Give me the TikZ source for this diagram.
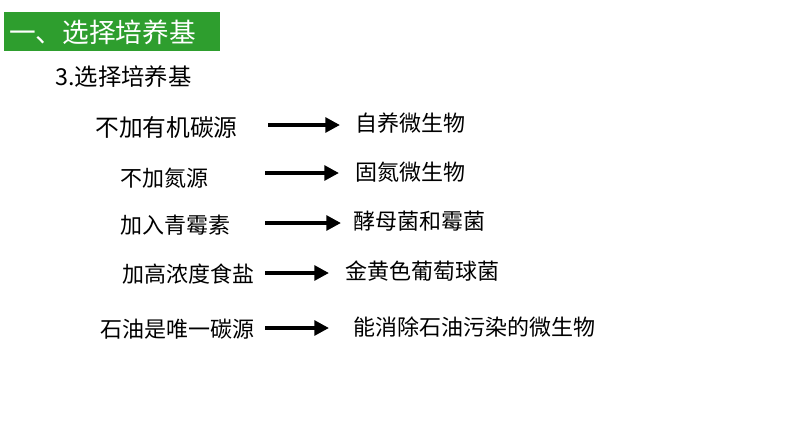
\documentclass[tikz,border=0pt]{standalone}
\usepackage{fontspec}
\newfontfamily\cjk{Noto Sans CJK SC}
\usetikzlibrary{arrows.meta}
\definecolor{titlegreen}{RGB}{46,158,46}
\begin{document}
\begin{tikzpicture}[x=0.75pt, y=-0.75pt,
    txt/.style={anchor=west, inner sep=0pt, font=\cjk\fontsize{16.5}{18}\selectfont},
    arr/.style={-{Triangle[length=11pt, width=11pt]}, line width=3pt}]
    \useasboundingbox (0,0) rectangle (794,447);

    % ==== TITLE BAR ====
    \fill[titlegreen] (4,12) rectangle (220,51);
    \node[anchor=west, inner sep=0pt, text=white, font=\cjk\fontsize{20}{22}\selectfont] (title) at (9,32) {一、选择培养基};
    \node[txt, font=\cjk\fontsize{17.5}{19}\selectfont] (sub) at (55,77) {3.选择培养基};

    % ==== LEFT: CONDITIONS ====
    \node[txt, font=\cjk\fontsize{17.8}{19}\selectfont] (l1) at (95,127) {不加有机碳源};
    \node[txt] (l2) at (120,178) {不加氮源};
    \node[txt] (l3) at (120,225) {加入青霉素};
    \node[txt] (l4) at (122,274) {加高浓度食盐};
    \node[txt] (l5) at (100,329) {石油是唯一碳源};

    % ==== RIGHT: ORGANISMS ====
    \node[txt] (r1) at (355,123) {自养微生物};
    \node[txt] (r2) at (355,172) {固氮微生物};
    \node[txt] (r3) at (353,221) {酵母菌和霉菌};
    \node[txt] (r4) at (345,271) {金黄色葡萄球菌};
    \node[txt] (r5) at (353,327) {能消除石油污染的微生物};

    % ==== ARROWS ====
    \coordinate (s1) at (268,125); \coordinate (e1) at (340,125);
    \coordinate (s2) at (265,173); \coordinate (e2) at (339,173);
    \coordinate (s3) at (265,223); \coordinate (e3) at (341,223);
    \coordinate (s4) at (265,273); \coordinate (e4) at (329,273);
    \coordinate (s5) at (265,328); \coordinate (e5) at (329,328);
    \foreach \i in {1,...,5}
        \draw[arr] (s\i) -- (e\i);
\end{tikzpicture}
\end{document}
